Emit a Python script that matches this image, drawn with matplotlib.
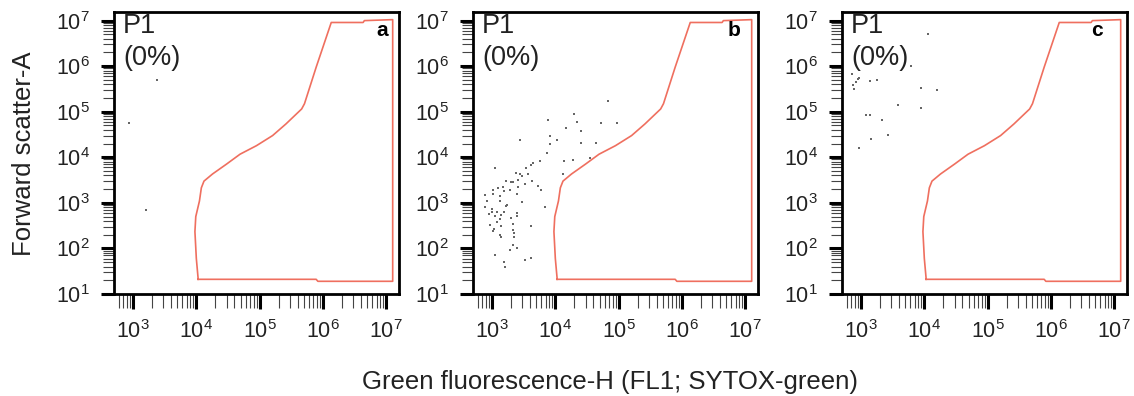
import numpy as np
import matplotlib.pyplot as plt
from matplotlib.ticker import LogLocator, NullFormatter

plt.rcParams['font.family'] = ['Liberation Sans', 'DejaVu Sans']
plt.rcParams['mathtext.fontset'] = 'custom'
plt.rcParams['mathtext.rm'] = 'Liberation Sans'

# gate P1 (same polygon in every panel)
gate_x = [1.07e4, 1.0e4, 9.5e3, 9.8e3, 1.12e4, 1.2e4, 1.32e4, 1.8e4, 3.0e4, 4.9e4,
          8.9e4, 1.6e5, 2.6e5, 4.6e5, 5.1e5, 7.8e5, 1.35e6, 4.3e6, 4.5e6, 1.26e7,
          1.26e7, 8.3e5, 7.8e5, 1.07e4]
gate_y = [21, 60, 234, 500, 1100, 2140, 3000, 4300, 7100, 1.17e4,
          1.8e4, 3.0e4, 5.4e4, 1.15e5, 1.5e5, 9.5e5, 9.1e6, 9.1e6, 1.0e7, 1.05e7,
          19, 19, 21, 21]

# events, panel a
a_x = [2.4e3, 870, 1.58e3]
a_y = [4.9e5, 5.8e4, 690]

# events, panel b
b_x = [6.7e4, 1.99e4, 7.8e3, 2.2e4, 5.2e4, 9.4e4, 1.45e4, 2.5e4, 8.1e3, 1.06e4,
       2.8e3, 2.5e4, 4.4e4, 8.3e3, 7.4e3, 3.5e4, 1.36e4, 1.87e4, 5.7e3, 4.5e3,
       4.1e3, 3.4e3, 1.31e4, 1.1e3, 2.77e3, 2.36e3, 3.76e3, 2.94e3, 1.69e3, 2.57e3,
       2.01e3, 2.14e3, 4.3e3, 3.33e3, 5.4e3, 5.98e3, 2.6e3, 1.5e3, 1.25e3, 1.04e3,
       1.04e3, 780, 1.57e3, 1.89e3, 2.51e3, 1.34e3, 1.36e3, 820, 3.01e3, 1.74e3,
       1.66e3, 6.9e3, 780, 1.01e3, 1.0e3, 1.22e3, 1.54e3, 2.51e3, 890, 1.12e3,
       1.38e3, 1.34e3, 1.2e3, 1.96e3, 2.51e3, 920, 1.39e3, 2.17e3, 4.2e3, 1.06e3,
       1.04e3, 2.14e3, 2.19e3, 2.22e3, 1.36e3, 1.39e3, 2.14e3, 1.91e3, 2.48e3, 1.1e3,
       1.56e3, 1.61e3, 3.33e3, 4.2e3]
b_y = [1.71e5, 8.8e4, 6.7e4, 6.1e4, 5.7e4, 5.7e4, 4.4e4, 3.8e4, 2.9e4, 2.4e4,
       2.4e4, 2.1e4, 2.1e4, 2.0e4, 1.27e4, 9.9e3, 8.3e3, 8.7e3, 8.5e3, 7.4e3,
       6.9e3, 5.8e3, 4.2e3, 5.9e3, 4.4e3, 4.6e3, 4.3e3, 3.9e3, 3.06e3, 3.2e3,
       2.8e3, 2.9e3, 3.06e3, 2.54e3, 2.33e3, 1.9e3, 2.25e3, 2.25e3, 2.14e3, 1.96e3,
       1.55e3, 1.47e3, 1.81e3, 1.9e3, 1.6e3, 1.4e3, 1.08e3, 1.1e3, 1.05e3, 885,
       840, 810, 826, 735, 620, 630, 641, 600, 560, 523,
       532, 440, 378, 464, 523, 319, 314, 347, 303, 270,
       236, 256, 216, 182, 195, 176, 121, 92, 102, 72,
       51, 40, 56, 61]

# events, panel c
c_x = [1.16e4, 6.2e3, 720, 830, 900, 920, 750, 780, 1.37e3, 1.82e3,
       9.0e3, 1.57e4, 3.8e3, 9.0e3, 1.19e3, 1.37e3, 2.16e3, 2.65e3, 1.44e3, 920]
c_y = [5.1e6, 1.01e6, 6.8e5, 4.6e5, 5.2e5, 5.4e5, 3.8e5, 3.1e5, 4.8e5, 5.0e5,
       3.3e5, 3.0e5, 1.42e5, 1.2e5, 8.3e4, 8.3e4, 6.6e4, 3.1e4, 2.5e4, 1.59e4]

panel_x = [a_x, b_x, c_x]
panel_y = [a_y, b_y, c_y]
panel_tags = ['a', 'b', 'c']
tag_pos = [0.96, 0.94, 0.915]
gate_label = 'P1\n(0%)'

fig = plt.figure(figsize=(11.34, 3.96), dpi=100)
lefts = [114, 473, 842]
for i in range(3):
    ax = fig.add_axes([lefts[i] / 1134, 1 - 294 / 396, 285 / 1134, 282.5 / 396])
    ax.set_xscale('log')
    ax.set_yscale('log')
    ax.set_xlim(10 ** 2.7, 10 ** 7.2)
    ax.set_ylim(10, 10 ** 7.2)

    ax.plot(gate_x, gate_y, color='#ef6f5f', lw=1.2, zorder=2)
    ax.scatter(panel_x[i], panel_y[i], s=4.5, marker='s', color='#666666',
               linewidths=0, zorder=3)

    ax.text(0.032, 0.995, gate_label, transform=ax.transAxes, ha='left', va='top',
            fontsize=19.5, linespacing=1.3, color='#222222')
    ax.text(tag_pos[i], 0.913, panel_tags[i], transform=ax.transAxes, ha='right',
            va='baseline', fontsize=15, fontweight='bold')

    ax.xaxis.set_major_locator(LogLocator(base=10, numticks=10))
    ax.yaxis.set_major_locator(LogLocator(base=10, numticks=10))
    ax.xaxis.set_minor_locator(LogLocator(base=10, subs=np.arange(2, 10), numticks=20))
    ax.yaxis.set_minor_locator(LogLocator(base=10, subs=np.arange(2, 10), numticks=20))
    ax.xaxis.set_minor_formatter(NullFormatter())
    ax.yaxis.set_minor_formatter(NullFormatter())

    for s in ax.spines.values():
        s.set_linewidth(2.0)
    ax.tick_params(axis='both', which='major', direction='out', width=2.2,
                   labelsize=15.5, labelcolor='#222222')
    ax.tick_params(axis='both', which='minor', direction='out', width=0.8,
                   color='#444444')
    ax.tick_params(axis='y', which='major', length=9.5, pad=8)
    ax.tick_params(axis='y', which='minor', length=8)
    ax.tick_params(axis='x', which='major', length=11, pad=8)
    ax.tick_params(axis='x', which='minor', length=10)

fig.text(24 / 1134, 1 - 154 / 396, 'Forward scatter-A', rotation=90, ha='center',
         va='center', fontsize=18.5, color='#222222')
fig.text(610 / 1134, 1 - 389 / 396, 'Green fluorescence-H (FL1; SYTOX-green)',
         ha='center', va='baseline', fontsize=18.5, color='#222222')

fig.savefig('out.png', dpi=100)
